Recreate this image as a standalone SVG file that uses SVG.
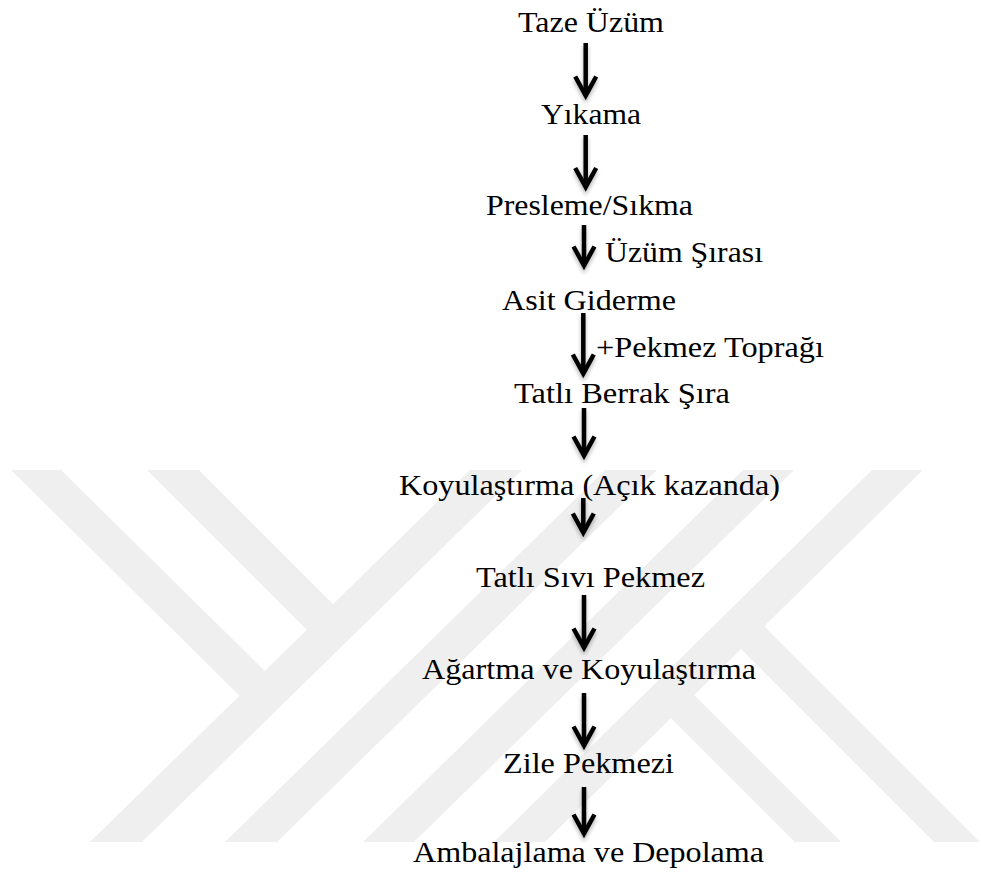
<svg xmlns="http://www.w3.org/2000/svg" width="981" height="880" viewBox="0 0 981 880">
  <style>
    .t { font-family: "Liberation Serif", "Times New Roman", serif; font-size: 29px; fill: #000; }
    .wm { fill: #efefef; }
    .arr { stroke: #000; stroke-width: 4.5; fill: none; stroke-linecap: butt; marker-end: url(#ah); }
  </style>
  <defs>
    <marker id="ah" markerUnits="userSpaceOnUse" markerWidth="30" markerHeight="30" viewBox="-25 -15 30 30" refX="0" refY="0" orient="auto" overflow="visible">
      <path d="M-19,-10.5 L0,0 L-19,10.5" fill="none" stroke="#000" stroke-width="4.5" stroke-linejoin="miter"/>
    </marker>
    <filter id="sh" filterUnits="userSpaceOnUse" x="0" y="0" width="981" height="880">
      <feGaussianBlur in="SourceAlpha" stdDeviation="2"/>
      <feOffset dx="0" dy="3" result="b"/>
      <feComponentTransfer><feFuncA type="linear" slope="0.3"/></feComponentTransfer>
      <feMerge><feMergeNode/><feMergeNode in="SourceGraphic"/></feMerge>
    </filter>
  </defs>
  <rect width="981" height="880" fill="#fff"/>
  <g id="watermark">
    <polygon class="wm" points="90,842 142,842 522,470 470,470"/>
    <polygon class="wm" points="225,842 277,842 657,470 605,470"/>
    <polygon class="wm" points="363,842 414,842 794,470 743,470"/>
    <polygon class="wm" points="494,842 545,842 923,470 872,470"/>
    <polygon class="wm" points="11,470 61,470 279,685 254,710"/>
    <polygon class="wm" points="147,470 199,470 349,620 322,645"/>
    <polygon class="wm" points="680,681 841,842 795,842 655,702"/>
    <polygon class="wm" points="752,614 980,842 934,842 728,636"/>
  </g>
  <g id="connectors" filter="url(#sh)">
    <line class="arr" x1="585.7" y1="43" x2="585.7" y2="95.5"/>
    <line class="arr" x1="585.7" y1="135" x2="585.7" y2="187"/>
    <line class="arr" x1="584" y1="225" x2="584" y2="265.5"/>
    <line class="arr" x1="583.3" y1="313" x2="583.3" y2="373.5"/>
    <line class="arr" x1="584" y1="408" x2="584" y2="455.5"/>
    <line class="arr" x1="583.3" y1="498" x2="583.3" y2="532.5"/>
    <line class="arr" x1="584" y1="595" x2="584" y2="647.5"/>
    <line class="arr" x1="584" y1="693" x2="584" y2="745.5"/>
    <line class="arr" x1="584" y1="787" x2="584" y2="833.5"/>
  </g>
  <g id="n1"><text class="t" x="518" y="32" textLength="146" lengthAdjust="spacingAndGlyphs">Taze Üzüm</text></g>
  <g id="n2"><text class="t" x="541" y="124" textLength="100" lengthAdjust="spacingAndGlyphs">Yıkama</text></g>
  <g id="n3"><text class="t" x="486" y="215" textLength="207" lengthAdjust="spacingAndGlyphs">Presleme/Sıkma</text></g>
  <g id="l1"><text class="t" x="605" y="262" textLength="158" lengthAdjust="spacingAndGlyphs">Üzüm Şırası</text></g>
  <g id="n4"><text class="t" x="502" y="310" textLength="174" lengthAdjust="spacingAndGlyphs">Asit Giderme</text></g>
  <g id="l2"><text class="t" x="596" y="357" textLength="228" lengthAdjust="spacingAndGlyphs">+Pekmez Toprağı</text></g>
  <g id="n5"><text class="t" x="514" y="403" textLength="216" lengthAdjust="spacingAndGlyphs">Tatlı Berrak Şıra</text></g>
  <g id="n6"><text class="t" x="399" y="495" textLength="381" lengthAdjust="spacingAndGlyphs">Koyulaştırma (Açık kazanda)</text></g>
  <g id="n7"><text class="t" x="476" y="587" textLength="229" lengthAdjust="spacingAndGlyphs">Tatlı Sıvı Pekmez</text></g>
  <g id="n8"><text class="t" x="422" y="679" textLength="334" lengthAdjust="spacingAndGlyphs">Ağartma ve Koyulaştırma</text></g>
  <g id="n9"><text class="t" x="503" y="773" textLength="171" lengthAdjust="spacingAndGlyphs">Zile Pekmezi</text></g>
  <g id="n10"><text class="t" x="413" y="862" textLength="351" lengthAdjust="spacingAndGlyphs">Ambalajlama ve Depolama</text></g>
</svg>
